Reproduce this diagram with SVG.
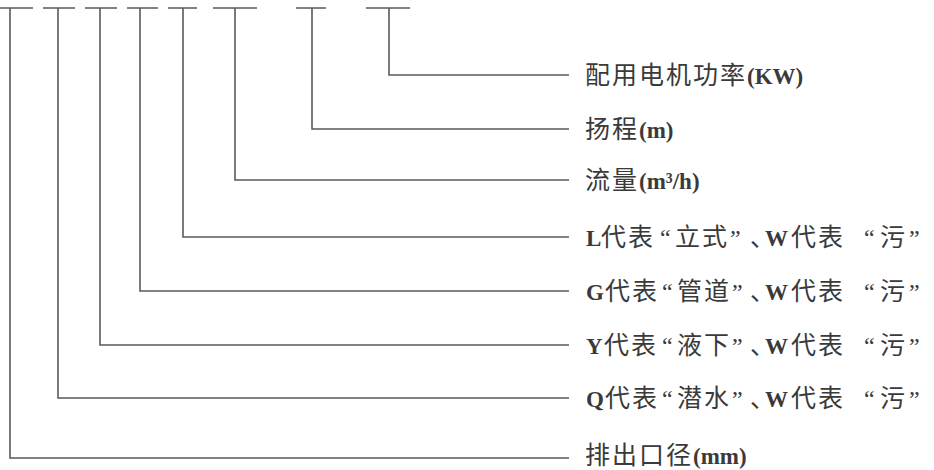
<svg xmlns="http://www.w3.org/2000/svg" width="934" height="470" viewBox="0 0 934 470">
<style>
.ln{fill:none;stroke:#5a5a5a;stroke-width:1.6}
.tx{font-family:"Noto Sans CJK SC","Noto Sans CJK TC",sans-serif;font-size:25px;fill:#3a3a3a;letter-spacing:2px}
.b{font-family:"Liberation Serif","Noto Sans CJK SC",serif;font-weight:bold;font-size:23px;letter-spacing:0}
.q{font-family:"Liberation Serif",serif;font-size:24px;letter-spacing:0}
.d{letter-spacing:-12px}
</style>
<rect width="934" height="470" fill="#fff"/>
<g id="connectors">
<path class="ln" d="M0 8H33M43 8H75M85 8H117M127 8H158M168 8H197M213 8H257M296 8H326M366 8H410"/>
<path class="ln" d="M10 8V458H569"/>
<path class="ln" d="M58 8V398H569"/>
<path class="ln" d="M100 8V345H569"/>
<path class="ln" d="M140 8V291H569"/>
<path class="ln" d="M183 8V237H569"/>
<path class="ln" d="M235 8V180H569"/>
<path class="ln" d="M312 8V129H569"/>
<path class="ln" d="M389 8V75H569"/>
</g>
<g id="n1"><text class="tx" x="585" y="84">配用电机功率<tspan class="b">(KW)</tspan></text></g>
<g id="n2"><text class="tx" x="585" y="138">扬程<tspan class="b">(m)</tspan></text></g>
<g id="n3"><text class="tx" x="585" y="189">流量<tspan class="b">(m³/h)</tspan></text></g>
<g id="n4"><text class="tx" y="246"><tspan class="b" x="586">L</tspan><tspan x="601">代表</tspan><tspan class="q" x="660">“</tspan><tspan x="675">立式</tspan><tspan class="q" x="730">”</tspan><tspan class="d" x="750">、</tspan><tspan class="b" x="765">W</tspan><tspan x="791">代表</tspan><tspan class="q" x="864">“</tspan><tspan x="880">污</tspan><tspan class="q" x="909">”</tspan></text></g>
<g id="n5"><text class="tx" y="300"><tspan class="b" x="586">G</tspan><tspan x="605">代表</tspan><tspan class="q" x="662">“</tspan><tspan x="677">管道</tspan><tspan class="q" x="732">”</tspan><tspan class="d" x="750">、</tspan><tspan class="b" x="765">W</tspan><tspan x="791">代表</tspan><tspan class="q" x="864">“</tspan><tspan x="880">污</tspan><tspan class="q" x="909">”</tspan></text></g>
<g id="n6"><text class="tx" y="354"><tspan class="b" x="586">Y</tspan><tspan x="604">代表</tspan><tspan class="q" x="662">“</tspan><tspan x="677">液下</tspan><tspan class="q" x="732">”</tspan><tspan class="d" x="750">、</tspan><tspan class="b" x="765">W</tspan><tspan x="791">代表</tspan><tspan class="q" x="864">“</tspan><tspan x="880">污</tspan><tspan class="q" x="909">”</tspan></text></g>
<g id="n7"><text class="tx" y="407"><tspan class="b" x="586">Q</tspan><tspan x="605">代表</tspan><tspan class="q" x="662">“</tspan><tspan x="677">潜水</tspan><tspan class="q" x="732">”</tspan><tspan class="d" x="750">、</tspan><tspan class="b" x="765">W</tspan><tspan x="791">代表</tspan><tspan class="q" x="864">“</tspan><tspan x="880">污</tspan><tspan class="q" x="909">”</tspan></text></g>
<g id="n8"><text class="tx" x="585" y="464">排出口径<tspan class="b">(mm)</tspan></text></g>
</svg>
